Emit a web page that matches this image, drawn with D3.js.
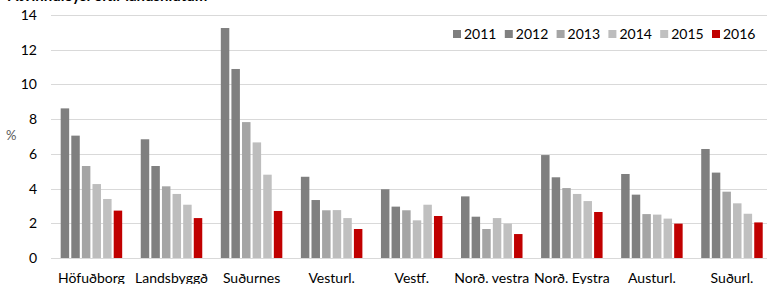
<!DOCTYPE html>
<html><head><meta charset="utf-8">
<script src="https://cdn.jsdelivr.net/npm/d3@7"></script>
<style>body{margin:0;background:#fff;}svg{display:block;font-family:Lato,"Open Sans",sans-serif;}</style>
</head><body>
<svg id="c" width="767" height="284"></svg>
<script>
const categories = ["Höfuðborg","Landsbyggð","Suðurnes","Vesturl.","Vestf.","Norð. vestra","Norð. Eystra","Austurl.","Suðurl."];
const years = ["2011","2012","2013","2014","2015","2016"];
const v2011 = [8.62, 6.84, 13.25, 4.68, 3.96, 3.55, 5.93, 4.84, 6.28];
const v2012 = [7.05, 5.30, 10.89, 3.34, 2.96, 2.38, 4.65, 3.65, 4.92];
const v2013 = [5.30, 4.13, 7.83, 2.75, 2.75, 1.67, 4.03, 2.53, 3.82];
const v2014 = [4.26, 3.69, 6.66, 2.76, 2.17, 2.30, 3.69, 2.50, 3.15];
const v2015 = [3.40, 3.07, 4.80, 2.30, 3.07, 1.98, 3.28, 2.27, 2.55];
const v2016 = [2.73, 2.30, 2.71, 1.67, 2.42, 1.38, 2.65, 1.98, 2.05];
const yTicks = [0,2,4,6,8,10,12,14];
const colors = ["#7f7f7f","#808080","#a5a5a5","#bdbdbd","#c0c0c0","#c00000"];
const series = [v2011,v2012,v2013,v2014,v2015,v2016];
const FONT = "Lato, 'Open Sans', sans-serif";

const svg = d3.select("#c");
const x0 = d3.scaleBand().domain(categories).range([51.4, 772]).paddingInner(0).paddingOuter(0);
const groupW = 61.5;
const x1 = d3.scaleBand().domain(years).range([(x0.step()-groupW)/2, (x0.step()+groupW)/2]).paddingInner(0.2).paddingOuter(0);
const y = d3.scaleLinear().domain([0,14]).range([258,15]);

// title (cut at top, as in the reference)
svg.append("text").attr("x",8).attr("y",1).attr("font-weight","bold").attr("font-size",15).attr("fill","#000").text("Atvinnuleysi eftir landshlutum");

// gridlines
svg.append("g").selectAll("line").data(yTicks).join("line")
  .attr("x1",51).attr("x2",767).attr("y1",d=>Math.round(y(d))+0.5).attr("y2",d=>Math.round(y(d))+0.5)
  .attr("stroke","#d9d9d9").attr("stroke-width",1);

// y axis labels
const yAxis = d3.axisLeft(y).tickValues(yTicks).tickSize(0).tickPadding(0).tickFormat(d3.format("d"));
const ga = svg.append("g").attr("transform","translate(37,0)").call(yAxis);
ga.select(".domain").remove();
ga.selectAll("text").attr("font-size",14).attr("fill","#000").style("font-family",FONT);

svg.append("text").attr("x",6).attr("y",140).attr("font-size",13).attr("fill","#595959").text("%");

// bars
const groups = svg.append("g").selectAll("g").data(categories).join("g")
  .attr("transform",d=>`translate(${x0(d)},0)`);
groups.selectAll("rect").data((d,i)=>years.map((yr,j)=>({yr, v:series[j][i], c:colors[j]}))).join("rect")
  .attr("x",d=>x1(d.yr)).attr("width",x1.bandwidth())
  .attr("y",d=>y(d.v)).attr("height",d=>y(0)-y(d.v)).attr("fill",d=>d.c);

// x axis labels
const xAxis = d3.axisBottom(x0).tickSize(0).tickPadding(0);
const gx = svg.append("g").attr("transform","translate(0,273)").call(xAxis);
gx.select(".domain").remove();
gx.selectAll("text").attr("font-size",14).attr("fill","#000").style("font-family",FONT);

// legend
const leg = svg.append("g").selectAll("g").data(years).join("g")
  .attr("transform",(d,i)=>`translate(${453 + i*51.8},34)`);
leg.append("rect").attr("x",0).attr("y",-4).attr("width",8).attr("height",8).attr("fill",(d,i)=>colors[i]);
leg.append("text").attr("x",11).attr("y",5).attr("font-size",14).attr("fill","#000").text(d=>d);
</script>
</body></html>
